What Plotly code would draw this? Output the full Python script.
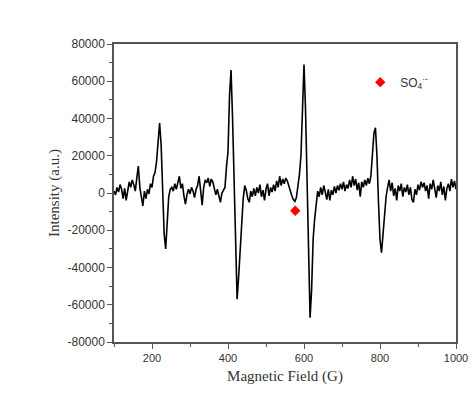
import plotly.graph_objects as go

field_start = 100
field_step = 4
intensity = [
    1000, -1000, 3000, 500, 4500, 2000, -3000, 2500, -4000, 1500,
    6000, 3000, 7000, 4500, 1000, 8000, 14500, 3000, -2000, -7000,
    1000, -3000, 2000, -500, 5000, 3000, 9000, 11000, 17000, 30000,
    37500, 26000, -2000, -22000, -30000, -14000, -2000, 2000, 3000, 1000,
    5000, 2000, 6500, 9000, 2500, 5000, -1500, -6000, -1000, 2000,
    -500, 3000, 1000, -2500, 2000, 4000, 9000, 1000, -6500, 3000,
    7000, 5500, 8000, 3500, 7500, 6000, 1500, -1000, 2000, -2500,
    -5000, 0, 2000, 3000, 14000, 22000, 52000, 66000, 40000, 5000,
    -30000, -57000, -45000, -30000, -14000, -3000, 4000, 1500, -3000, -5000,
    1000, -2000, 2500, -1500, 3000, 0, 4500, -2000, 1500, -4000,
    2000, 5000, -1500, 3000, 500, 4500, 1000, 6500, 3000, 9000,
    4000, 7500, 5000, 8000, 6500, 3500, 1000, -1500, -3500, -4500,
    -2500, 3000, 10000, 20000, 50000, 69000, 45000, 12000, -25000, -67000,
    -52000, -25000, -14000, -6000, 1000, -2000, 3000, -1000, 4000, 500,
    -3500, 2000, -4000, 1500, -1000, 3500, 0, 4000, 1500, 5000,
    2000, 6000, 1000, 4500, 2500, 7000, 3000, 9000, 4000, 7500,
    1500, 5500, -2000, 6000, 3000, 7000, 4000, 8000, 5000, 9000,
    20000, 32000, 35000, 20000, -5000, -25000, -32000, -22000, -8000, -2000,
    3000, 7000, 1000, 5500, -1500, 2500, -4000, 4000, 1000, 5000,
    -2000, 3000, 500, 4500, -1000, 3000, -3500, -5000, 2000, -1000,
    4500, 1500, 6000, 3000, 5500, 1000, 4000, -3000, 5000, 2000,
    7000, 1500, -2500, 4000, 1000, 6000, -1000, 3500, -4000, 2500,
    5000, 1000, 7500, 3000, 6500, 2000,
]
field = [field_start + field_step * i for i in range(len(intensity))]

radical_field = [577]
radical_intensity = [-9500]
radical_name = "SO<sub>4</sub><sup>·-</sup>"

x_ticks = [200, 400, 600, 800, 1000]
y_ticks = [-80000, -60000, -40000, -20000, 0, 20000, 40000, 60000, 80000]

fig = go.Figure()
fig.add_trace(go.Scatter(
    x=field, y=intensity, mode="lines",
    line=dict(color="black", width=1.6),
    showlegend=False,
))
fig.add_trace(go.Scatter(
    x=radical_field, y=radical_intensity, mode="markers",
    marker=dict(symbol="diamond", color="#ff0000", size=8),
    name=radical_name, showlegend=True,
))

axis_color = "#555555"
xtick_font = dict(family="Liberation Sans, Arial, sans-serif", size=11, color="#333333")
ytick_font = dict(family="Liberation Sans, Arial, sans-serif", size=12, color="#333333")
title_font = dict(family="Liberation Serif, Times New Roman, serif", size=15, color="#333333")

fig.update_layout(
    width=473, height=399,
    margin=dict(l=114, r=17, t=44, b=57, autoexpand=False),
    paper_bgcolor="white", plot_bgcolor="white",
    legend=dict(x=0.72, y=0.872, xanchor="left", yanchor="middle",
                bgcolor="rgba(0,0,0,0)", itemwidth=30,
                font=dict(family="Liberation Sans, Arial, sans-serif", size=12, color="#333333")),
)
fig.update_xaxes(
    automargin=False,
    range=[100, 1000], tickvals=x_ticks, ticktext=[str(v) for v in x_ticks],
    showgrid=False, zeroline=False,
    showline=True, linecolor=axis_color, linewidth=1.5, mirror=True,
    ticks="outside", ticklen=5, tickwidth=1.2, tickcolor=axis_color,
    minor=dict(dtick=100, tick0=100, ticks="outside", ticklen=3, tickwidth=1, tickcolor=axis_color),
    tickfont=xtick_font,
    title=dict(text="Magnetic Field (G)", font=title_font, standoff=8),
)
fig.update_yaxes(
    automargin=False,
    range=[-80000, 80000], tickvals=y_ticks, ticktext=[str(v) for v in y_ticks],
    showgrid=False, zeroline=False,
    showline=True, linecolor=axis_color, linewidth=1.5, mirror=True,
    ticks="outside", ticklen=5, tickwidth=1.2, tickcolor=axis_color,
    minor=dict(dtick=10000, tick0=0, ticks="outside", ticklen=3, tickwidth=1, tickcolor=axis_color),
    tickfont=ytick_font,
    title=dict(text="Intensity (a.u.)", font=title_font, standoff=4),
)

fig.write_html("out.html")
